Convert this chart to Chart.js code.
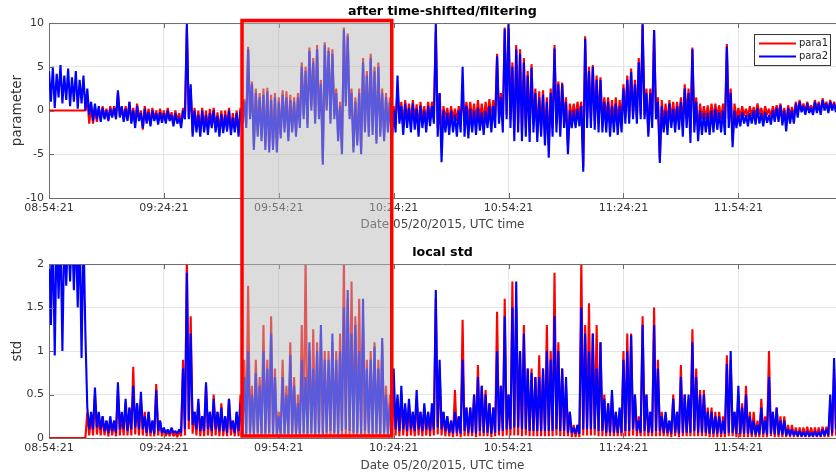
<!DOCTYPE html>
<html>
<head>
<meta charset="utf-8">
<script src="https://cdn.jsdelivr.net/npm/chart.js@4.4.0/dist/chart.umd.min.js"></script>
<style>
  html, body { margin: 0; padding: 0; background: #fff; }
  #wrap { position: relative; width: 836px; height: 476px; }
  .panel { position: absolute; left: 0; width: 836px; height: 238px; }
</style>
</head>
<body>
<div id="wrap">
  <div class="panel" style="top:0"><canvas id="paramChart" width="836" height="238"></canvas></div>
  <div class="panel" style="top:238px"><canvas id="stdChart" width="836" height="238"></canvas></div>
</div>
<script>
// --- data: per-minute high / low envelope of each noisy trace ---
const startTime = "08:54:21";
const sampleStepMin = 1;
const timeTicksMin = [0, 30, 60, 90, 120, 150, 180];
const paramTicks = [-10, -5, 0, 5, 10];
const stdTicks = [0, 0.5, 1, 1.5, 2];
const highlightMinutes = [50.4, 89.5];

const para1High = [
    0, 0, 0, 0, 0, 0, 0, 0, 0, 0,
    1.5, 0.5, 0.5, 0.3, 0.5, 0.2, 0.5, 0.5, 2.0, 0.3,
    0.5, 1.0, 0.3, 0.8, 0.0, 0.5, 0.2, 0.3, 0.0, 0.2,
    0.0, 0.3, -0.2, 0.0, -0.3, 0.3, 9.5, 2.5, 0.3, 0.0,
    0.3, 0.0, 0.2, 0.3, -0.2, 0.0, 0.0, 0.3, -0.3, 0.0,
    0.3, 1.3, 7.3, 3.3, 2.5, 2.0, 2.5, 2.6, 1.8, 2.0,
    1.5, 2.3, 2.2, 1.8, 1.5, 2.0, 5.5, 5.0, 7.2, 6.0,
    7.5, 3.5, 7.8, 7.2, 7.0, 2.5, 1.0, 9.5, 8.8, 2.5,
    1.5, 2.5, 6.0, 4.5, 6.5, 5.0, 5.5, 2.5, 2.0, 1.5,
    0.5, 2.5, 1.0, 1.2, 0.8, 1.2, 0.7, 1.0, 0.5, 1.0,
    1.0, 9.0, 2.0, 0.5, 0.3, 0.5, 0.2, 0.5, 1.5, 1.0,
    1.0, 0.8, 1.2, 0.8, 1.0, 1.3, 1.2, 6.5, 2.0, 9.5,
    9.8, 5.5, 7.5, 7.0, 6.0, 4.5, 5.3, 2.5, 2.2, 2.3,
    1.5, 2.5, 7.5, 3.3, 3.2, 1.5, 0.8, 0.8, 1.0, 1.0,
    8.5, 5.0, 5.2, 4.0, 3.8, 1.5, 1.5, 1.2, 1.5, 1.2,
    3.0, 4.0, 4.8, 3.5, 6.0, 9.8, 2.5, 2.5, 9.2, 1.5,
    1.2, 0.8, 1.2, 1.0, 1.0, 1.5, 3.0, 2.5, 7.2, 1.5,
    0.8, 0.5, 0.6, 0.8, 0.8, 0.6, 0.8, 7.6, 2.5, 0.8,
    0.3, 0.5, 0.2, 0.5, 0.4, 0.8, 0.3, 0.5, 0.2, 0.5,
    0.6, 0.8, 0.3, 0.6, 0.4, 1.0, 1.2, 0.8, 1.0, 0.6,
    1.2, 1.0, 1.4, 1.0, 1.2, 1.0
];
const para1Low = [
    0, 0, 0, 0, 0, 0, 0, 0, 0, 0,
    -1.5, -1.5, -1.3, -1.0, -0.8, -1.0, -0.6, -0.8, -0.6, -1.0,
    -1.0, -1.2, -1.5, -1.0, -2.2, -1.2, -1.5, -1.0, -1.3, -1.0,
    -1.2, -1.0, -1.5, -1.2, -1.5, -0.8, -0.8, -2.5, -2.0, -2.5,
    -2.0, -2.2, -1.5, -2.0, -2.5, -2.2, -2.0, -2.3, -2.0, -2.5,
    -1.0, -1.5, -0.8, -4.0, -2.5, -3.0, -4.0, -4.2, -4.0, -4.2,
    -2.8, -2.0, -3.0, -2.0, -2.5, -1.5, -0.5, -1.5, 0.5, -1.0,
    -0.5, -5.8, 0.5, -1.0, -0.5, -3.0, -4.5, 1.0, -0.5, -4.2,
    -3.5, -4.5, -2.0, -2.5, -2.3, -3.3, -2.5, -3.0, -2.0, -3.0,
    -1.5, -1.0, -2.0, -1.2, -1.5, -1.2, -2.0, -1.0, -1.5, -1.0,
    -0.5, -2.0, -3.0, -1.0, -1.3, -1.0, -1.2, -1.0, -1.0, -1.2,
    -1.0, -1.3, -1.0, -1.3, -0.8, -1.0, -0.8, -0.5, -1.0, -0.5,
    -1.0, -2.5, -1.5, -2.5, -2.0, -2.5, -1.5, -2.5, -2.0, -3.0,
    -4.0, -2.0, -1.5, -2.0, -1.0, -4.0, -0.8, -0.8, -0.5, -6.5,
    -1.0, -1.0, -1.2, -1.5, -1.5, -1.0, -1.5, -1.2, -1.5, -1.0,
    -0.8, -0.8, -0.5, -0.8, -0.5, -0.5, -2.5, -1.0, -0.5, -5.5,
    -1.5, -1.5, -1.0, -1.2, -1.0, -1.8, -1.0, -2.5, -1.5, -2.5,
    -1.0, -1.0, -1.2, -1.0, -0.8, -1.0, -1.2, -1.0, -3.5, -1.0,
    -0.8, -0.6, -0.8, -0.6, -0.7, -0.5, -0.8, -0.5, -0.8, -0.5,
    -0.5, -0.8, -1.5, -0.6, -0.8, -0.3, 0.0, -0.2, 0.0, -0.2,
    0.0, -0.2, 0.3, 0.0, 0.2, 0.0
];

const para2High = [
    4.5, 5.0, 4.2, 5.2, 4.0, 4.8, 3.8, 4.5, 3.5, 4.0,
    2.5, 1.0, 0.8, 0.5, 0.3, 0.0, 0.2, 0.3, 2.3, 0.5,
    0.2, 1.0, 0.0, 0.5, -0.3, 0.2, -0.2, 0.0, -0.3, -0.2,
    -0.3, 0.0, -0.5, -0.3, -0.8, 0.0, 10, 3.0, 0.0, -0.5,
    0.0, -0.5, -0.3, 0.0, -0.6, -0.4, -0.5, 0.0, -0.8, -0.3,
    0.0, 1.0, 7.0, 3.0, 2.0, 1.5, 1.8, 2.2, 1.2, 1.5,
    1.0, 1.8, 1.5, 1.2, 1.0, 1.5, 5.0, 4.5, 6.8, 5.5,
    7.0, 3.0, 7.5, 6.8, 6.5, 2.0, 0.5, 9.2, 8.5, 2.0,
    1.0, 2.0, 5.5, 4.0, 6.0, 4.5, 5.0, 2.0, 1.5, 1.0,
    0.0, 4.0, 0.5, 0.8, 0.3, 0.8, 0.2, 0.5, 0.0, 0.5,
    0.5, 10, 2.0, 0.0, -0.3, 0.0, -0.5, 0.0, 5.0, 0.5,
    0.2, 0.0, 0.3, -0.2, 0.0, 0.5, 0.5, 6.2, 1.5, 9.3,
    10, 5.0, 7.0, 6.5, 5.5, 4.0, 4.9, 2.0, 1.5, 1.8,
    1.0, 2.0, 7.1, 3.0, 3.0, 1.0, 0.0, 0.0, 0.2, 0.5,
    8.2, 4.5, 5.0, 3.5, 3.5, 1.0, 1.0, 0.5, 0.8, 0.5,
    2.5, 3.5, 4.4, 3.0, 5.5, 10, 2.0, 2.0, 9.2, 1.0,
    0.5, 0.0, 0.8, 0.2, 0.5, 1.0, 2.5, 2.0, 7.0, 1.0,
    0.0, -0.3, -0.3, 0.0, 0.2, -0.2, 0.0, 7.3, 2.0, 0.0,
    -0.5, -0.2, -0.5, -0.3, 0.0, 0.3, -0.3, -0.2, -0.5, 0.0,
    0.3, 0.6, 0.0, 0.3, 0.0, 0.8, 1.0, 0.5, 0.8, 0.3,
    1.0, 0.8, 1.2, 0.8, 1.0, 0.8
];
const para2Low = [
    1.0, 0.3, 1.5, 0.8, 1.2, 0.5, 1.0, 0.2, 0.8, 0.0,
    -0.5, -1.2, -1.0, -1.3, -1.0, -1.2, -0.8, -1.0, -0.8, -1.3,
    -1.2, -1.5, -2.0, -1.2, -2.0, -1.5, -1.8, -1.2, -1.6, -1.4,
    -1.5, -1.2, -1.8, -1.5, -2.0, -1.0, -1.0, -3.0, -2.5, -3.0,
    -2.5, -2.8, -2.0, -2.5, -3.0, -2.6, -2.4, -2.8, -2.5, -3.0,
    -1.5, -2.0, -1.0, -4.5, -3.0, -3.5, -4.5, -4.8, -4.5, -4.8,
    -3.2, -2.5, -3.5, -2.5, -3.0, -2.0, -1.0, -2.0, 0.0, -1.5,
    -1.0, -6.2, 0.0, -1.5, -1.0, -3.5, -5.0, 0.5, -1.0, -4.8,
    -4.0, -5.0, -2.5, -3.0, -2.8, -3.8, -3.0, -3.5, -2.5, -3.4,
    -2.5, -1.5, -2.8, -2.0, -2.5, -2.2, -3.0, -2.0, -2.5, -1.8,
    -1.5, -3.0, -5.9, -2.5, -2.8, -2.5, -3.0, -2.5, -3.0, -3.2,
    -2.5, -2.8, -2.3, -2.8, -2.0, -2.5, -2.0, -1.5, -2.5, -1.0,
    -2.0, -3.5, -2.5, -3.5, -3.0, -3.6, -2.5, -3.6, -3.0, -4.0,
    -5.4, -3.0, -2.5, -3.0, -2.0, -5.0, -2.0, -2.0, -1.8, -7.0,
    -2.0, -2.0, -2.2, -2.5, -2.5, -2.5, -3.0, -2.5, -2.8, -2.5,
    -1.5, -1.5, -1.0, -1.5, -1.0, -1.0, -3.0, -2.0, -1.0, -6.0,
    -2.5, -2.8, -2.0, -2.5, -2.2, -3.0, -2.0, -3.7, -2.5, -3.5,
    -2.8, -2.5, -2.8, -2.5, -2.2, -2.5, -2.8, -2.0, -4.2, -2.0,
    -1.8, -1.5, -1.8, -1.5, -1.6, -1.5, -1.8, -1.4, -1.6, -1.3,
    -1.3, -1.7, -2.4, -1.5, -1.5, -0.8, -0.2, -0.5, -0.3, -0.5,
    -0.3, -0.5, 0.0, -0.3, 0.0, -0.2
];

const std1High = [
    0, 0, 0, 0, 0, 0, 0, 0, 0, 0,
    0.3, 0.25, 0.5, 0.25, 0.25, 0.2, 0.2, 0.2, 0.55, 0.25,
    0.4, 0.35, 0.82, 0.4, 0.45, 0.3, 0.3, 0.2, 0.62, 0.2,
    0.1, 0.08, 0.1, 0.06, 0.08, 0.9, 2.1, 1.4, 0.3, 0.4,
    0.25, 0.6, 0.3, 0.5, 0.3, 0.4, 0.25, 0.45, 0.2, 0.3,
    0.5, 0.9, 1.75, 0.6, 0.9, 0.7, 1.3, 0.9, 1.4, 0.8,
    0.3, 0.9, 0.6, 1.1, 0.7, 0.5, 1.3, 2.05, 1.0, 1.25,
    1.1, 1.2, 1.0, 1.0, 1.1, 1.0, 1.2, 2.05, 1.6, 1.8,
    1.4, 1.6, 1.3, 0.9, 1.0, 1.1, 0.9, 1.1, 0.6, 0.5,
    0.6, 0.45, 0.5, 0.35, 0.4, 0.3, 0.45, 0.3, 0.35, 0.3,
    0.3, 1.6, 0.8, 0.3, 0.25, 0.2, 0.55, 0.25, 1.36, 0.35,
    0.35, 0.5, 0.84, 0.6, 0.55, 0.4, 0.35, 1.45, 0.6, 1.6,
    0.5, 1.8, 1.5, 1.0, 1.3, 0.8, 0.8, 0.7, 0.95, 0.8,
    1.3, 1.0, 1.9, 1.1, 0.8, 0.6, 0.3, 0.15, 0.15, 2.05,
    1.3, 1.55, 1.2, 1.3, 1.1, 0.5, 0.4, 0.5, 0.3, 0.3,
    1.0, 1.2, 1.2, 0.5, 0.25, 1.4, 0.5, 0.3, 1.5, 0.9,
    0.3, 0.25, 0.2, 0.5, 0.3, 0.84, 0.5, 0.45, 1.25, 0.8,
    0.55, 0.55, 0.35, 0.35, 0.3, 0.3, 0.25, 0.95, 0.9, 0.3,
    0.5, 0.4, 0.6, 0.3, 0.3, 0.2, 0.45, 0.25, 1.0, 0.3,
    0.35, 0.25, 0.25, 0.15, 0.15, 0.12, 0.12, 0.12, 0.13, 0.12,
    0.12, 0.12, 0.13, 0.13, 0.4, 0.8
];
const std1Low = [
    0, 0, 0, 0, 0, 0, 0, 0, 0, 0,
    0.03, 0.03, 0.04, 0.03, 0.03, 0.02, 0.03, 0.02, 0.03, 0.03,
    0.03, 0.03, 0.04, 0.03, 0.03, 0.02, 0.02, 0.02, 0.03, 0.02,
    0.02, 0.02, 0.02, 0.01, 0.02, 0.03, 0.1, 0.05, 0.03, 0.02,
    0.02, 0.03, 0.02, 0.03, 0.02, 0.02, 0.02, 0.03, 0.02, 0.02,
    0.02, 0.02, 0.03, 0.02, 0.02, 0.02, 0.02, 0.02, 0.02, 0.02,
    0.02, 0.02, 0.02, 0.02, 0.02, 0.02, 0.02, 0.03, 0.02, 0.02,
    0.02, 0.02, 0.02, 0.02, 0.02, 0.02, 0.02, 0.03, 0.02, 0.02,
    0.02, 0.02, 0.02, 0.02, 0.02, 0.02, 0.02, 0.02, 0.02, 0.02,
    0.03, 0.02, 0.03, 0.02, 0.03, 0.02, 0.03, 0.02, 0.03, 0.02,
    0.03, 0.04, 0.03, 0.02, 0.02, 0.01, 0.02, 0.01, 0.02, 0.02,
    0.02, 0.01, 0.02, 0.02, 0.02, 0.01, 0.02, 0.03, 0.02, 0.03,
    0.03, 0.03, 0.03, 0.02, 0.03, 0.02, 0.02, 0.02, 0.02, 0.02,
    0.02, 0.02, 0.03, 0.02, 0.02, 0.02, 0.01, 0.01, 0.01, 0.03,
    0.03, 0.03, 0.03, 0.02, 0.02, 0.02, 0.02, 0.02, 0.02, 0.02,
    0.02, 0.02, 0.03, 0.02, 0.02, 0.02, 0.02, 0.02, 0.02, 0.02,
    0.02, 0.02, 0.01, 0.02, 0.01, 0.02, 0.02, 0.02, 0.02, 0.02,
    0.02, 0.02, 0.01, 0.01, 0.01, 0.01, 0.01, 0.02, 0.02, 0.01,
    0.01, 0.01, 0.01, 0.01, 0.01, 0.01, 0.01, 0.01, 0.02, 0.01,
    0.01, 0.01, 0.01, 0.01, 0.01, 0.01, 0.01, 0.01, 0.01, 0.01,
    0.01, 0.01, 0.01, 0.01, 0.02, 0.03
];

const std2High = [
    2.4, 2.4, 2.4, 2.4, 2.4, 2.4, 2.4, 2.4, 2.4, 2.4,
    0.35, 0.3, 0.58, 0.3, 0.25, 0.2, 0.25, 0.2, 0.64, 0.3,
    0.45, 0.35, 0.6, 0.4, 0.53, 0.25, 0.3, 0.2, 0.55, 0.2,
    0.12, 0.1, 0.12, 0.08, 0.1, 0.8, 1.9, 1.2, 0.3, 0.45,
    0.25, 0.64, 0.3, 0.45, 0.3, 0.35, 0.25, 0.45, 0.2, 0.3,
    0.4, 0.7, 1.0, 0.5, 0.75, 0.6, 1.0, 0.8, 1.2, 0.7,
    0.25, 0.7, 0.5, 0.95, 0.6, 0.4, 0.9, 0.7, 1.1, 0.8,
    1.0, 1.3, 0.9, 0.9, 1.2, 0.9, 1.0, 1.5, 1.7, 1.2,
    1.3, 1.0, 1.6, 0.8, 0.9, 1.05, 0.8, 1.15, 0.5, 0.4,
    0.8, 0.5, 0.6, 0.4, 0.45, 0.3, 0.55, 0.3, 0.4, 0.3,
    0.4, 1.7, 0.9, 0.3, 0.25, 0.2, 0.3, 0.25, 0.9, 0.35,
    0.35, 0.5, 0.7, 0.6, 0.5, 0.4, 0.35, 1.0, 0.6, 1.4,
    0.5, 1.5, 1.8, 1.0, 1.2, 0.8, 0.75, 0.7, 0.7, 0.8,
    1.0, 0.9, 1.4, 1.0, 0.8, 0.7, 0.3, 0.12, 0.15, 1.5,
    1.2, 1.0, 1.2, 0.8, 1.1, 0.45, 0.4, 0.55, 0.3, 0.35,
    0.9, 1.0, 1.18, 0.5, 0.2, 1.3, 0.5, 0.3, 1.3, 0.8,
    0.25, 0.3, 0.2, 0.45, 0.3, 0.7, 0.5, 0.5, 1.1, 0.7,
    0.5, 0.5, 0.3, 0.3, 0.25, 0.25, 0.2, 0.85, 1.0, 0.3,
    0.6, 0.35, 0.5, 0.25, 0.2, 0.15, 0.35, 0.2, 0.7, 0.3,
    0.35, 0.2, 0.2, 0.1, 0.1, 0.08, 0.08, 0.07, 0.08, 0.06,
    0.08, 0.07, 0.1, 0.1, 0.5, 0.92
];
const std2Low = [
    1.3, 0.95, 1.6, 1.0, 1.75, 1.8, 1.7, 1.5, 0.92, 1.2,
    0.1, 0.1, 0.12, 0.1, 0.08, 0.06, 0.08, 0.06, 0.1, 0.1,
    0.08, 0.1, 0.12, 0.1, 0.1, 0.06, 0.06, 0.05, 0.08, 0.06,
    0.05, 0.05, 0.06, 0.05, 0.06, 0.1, 0.2, 0.15, 0.1, 0.08,
    0.08, 0.1, 0.08, 0.1, 0.08, 0.08, 0.06, 0.1, 0.06, 0.08,
    0.05, 0.05, 0.06, 0.05, 0.06, 0.05, 0.05, 0.06, 0.05, 0.05,
    0.05, 0.05, 0.05, 0.06, 0.05, 0.05, 0.06, 0.05, 0.06, 0.05,
    0.06, 0.05, 0.06, 0.08, 0.06, 0.05, 0.08, 0.1, 0.08, 0.06,
    0.06, 0.05, 0.08, 0.06, 0.05, 0.06, 0.05, 0.06, 0.05, 0.05,
    0.1, 0.08, 0.1, 0.08, 0.1, 0.08, 0.1, 0.08, 0.1, 0.08,
    0.1, 0.12, 0.1, 0.08, 0.06, 0.05, 0.06, 0.05, 0.08, 0.06,
    0.06, 0.05, 0.08, 0.06, 0.06, 0.05, 0.06, 0.08, 0.08, 0.1,
    0.1, 0.12, 0.12, 0.1, 0.1, 0.08, 0.08, 0.08, 0.08, 0.08,
    0.08, 0.08, 0.1, 0.08, 0.08, 0.06, 0.06, 0.05, 0.05, 0.1,
    0.1, 0.1, 0.1, 0.08, 0.08, 0.06, 0.06, 0.06, 0.06, 0.06,
    0.08, 0.08, 0.1, 0.08, 0.06, 0.08, 0.06, 0.06, 0.08, 0.08,
    0.06, 0.06, 0.05, 0.06, 0.05, 0.06, 0.06, 0.06, 0.08, 0.06,
    0.06, 0.06, 0.05, 0.05, 0.05, 0.05, 0.05, 0.06, 0.06, 0.05,
    0.05, 0.05, 0.05, 0.04, 0.04, 0.04, 0.05, 0.04, 0.05, 0.04,
    0.04, 0.04, 0.03, 0.03, 0.03, 0.02, 0.02, 0.02, 0.02, 0.02,
    0.02, 0.02, 0.03, 0.03, 0.05, 0.1
];

// --- helpers ---
const FONT = "'DejaVu Sans', 'Liberation Sans', sans-serif";
const startSec = startTime.split(":").reduce((acc, v) => acc * 60 + Number(v), 0);

function fmtTime(min) {
    const s = Math.round(startSec + min * 60);
    const pad = (n) => String(n).padStart(2, "0");
    return pad(Math.floor(s / 3600)) + ":" + pad(Math.floor(s / 60) % 60) + ":" + pad(s % 60);
}

// each minute: its high, then its low half a minute later -> dense noisy trace
function toPoints(high, low) {
    const pts = [];
    high.forEach((h, i) => {
        pts.push({ x: i * sampleStepMin, y: h });
        pts.push({ x: (i + 0.5) * sampleStepMin, y: low[i] });
    });
    return pts;
}

// frame, inner tick marks, legend and the highlighted window
const panelDecor = {
    id: "panelDecor",
    afterDraw(chart, args, opts) {
        const { ctx, chartArea: a } = chart;
        const x = chart.scales.x, y = chart.scales.y;
        ctx.save();

        ctx.strokeStyle = "#6b6b6b";
        ctx.lineWidth = 1;
        ctx.beginPath();
        ctx.moveTo(a.left, a.top + 0.5);
        ctx.lineTo(a.right, a.top + 0.5);
        x.ticks.forEach((t) => {
            const px = Math.round(x.getPixelForValue(t.value)) + 0.5;
            ctx.moveTo(px, a.bottom);
            ctx.lineTo(px, a.bottom - 5);
            ctx.moveTo(px, a.top);
            ctx.lineTo(px, a.top + 5);
        });
        y.ticks.forEach((t) => {
            const py = Math.round(y.getPixelForValue(t.value)) + 0.5;
            ctx.moveTo(a.left, py);
            ctx.lineTo(a.left + 5, py);
        });
        ctx.stroke();

        if (opts.legend) {
            const lx = a.right - 82, ly = a.top + 11;
            ctx.fillStyle = "#fff";
            ctx.fillRect(lx, ly, 77, 32);
            ctx.strokeStyle = "#333";
            ctx.strokeRect(lx + 0.5, ly + 0.5, 76, 31);
            ctx.font = "10px " + FONT;
            ctx.textBaseline = "middle";
            ctx.textAlign = "left";
            opts.legend.forEach((item, k) => {
                const yy = ly + 9.5 + k * 13;
                ctx.strokeStyle = item.color;
                ctx.lineWidth = 2;
                ctx.beginPath();
                ctx.moveTo(lx + 5, yy);
                ctx.lineTo(lx + 42, yy);
                ctx.stroke();
                ctx.fillStyle = "#222";
                ctx.fillText(item.label, lx + 45, yy);
            });
        }

        const x0 = x.getPixelForValue(highlightMinutes[0]);
        const x1 = x.getPixelForValue(highlightMinutes[1]);
        const yTop = opts.upper ? a.top - 2.5 : 0;
        const yBot = opts.upper ? chart.height : a.bottom - 2;
        ctx.fillStyle = "rgba(184,184,184,0.49)";
        ctx.fillRect(x0, yTop, x1 - x0, yBot - yTop);
        ctx.strokeStyle = "#ff0000";
        ctx.lineWidth = 3.5;
        ctx.lineJoin = "miter";
        ctx.beginPath();
        if (opts.upper) {
            ctx.moveTo(x0, yBot);
            ctx.lineTo(x0, yTop);
            ctx.lineTo(x1, yTop);
            ctx.lineTo(x1, yBot);
        } else {
            ctx.moveTo(x0, yTop);
            ctx.lineTo(x0, yBot);
            ctx.lineTo(x1, yBot);
            ctx.lineTo(x1, yTop);
        }
        ctx.stroke();
        ctx.restore();
    },
};

function makePanel(canvasId, cfg) {
    const lineStyle = { borderWidth: 2.1, pointRadius: 0, tension: 0, borderJoinStyle: "bevel" };
    return new Chart(document.getElementById(canvasId), {
        type: "line",
        data: {
            datasets: [
                { label: "para1", data: toPoints(cfg.red[0], cfg.red[1]), borderColor: "#ff0000", order: 2, ...lineStyle },
                { label: "para2", data: toPoints(cfg.blue[0], cfg.blue[1]), borderColor: "#0000ff", order: 1, ...lineStyle },
            ],
        },
        options: {
            responsive: false,
            animation: false,
            layout: { padding: 0 },
            scales: {
                x: {
                    type: "linear",
                    min: 0,
                    max: 205.5,
                    afterBuildTicks: (s) => { s.ticks = timeTicksMin.map((v) => ({ value: v })); },
                    afterFit: (s) => { s.height = cfg.xHeight; },
                    ticks: {
                        padding: 4,
                        maxRotation: 0,
                        color: "#333",
                        font: { family: FONT, size: 11 },
                        callback: (v) => fmtTime(v),
                    },
                    grid: { color: "#e4e4e4", drawTicks: false },
                    border: { color: "#6b6b6b" },
                    title: {
                        display: true,
                        text: "Date 05/20/2015, UTC time",
                        color: "#444",
                        font: { family: FONT, size: 12 },
                        padding: { top: 0, bottom: cfg.xTitlePad },
                    },
                },
                y: {
                    min: cfg.yMin,
                    max: cfg.yMax,
                    afterBuildTicks: (s) => { s.ticks = cfg.yTicks.map((v) => ({ value: v })); },
                    afterFit: (s) => { s.width = 49; },
                    ticks: {
                        padding: 5,
                        color: "#333",
                        font: { family: FONT, size: 11 },
                        callback: (v) => String(v),
                    },
                    grid: { color: "#e4e4e4", drawTicks: false },
                    border: { color: "#6b6b6b" },
                    title: {
                        display: true,
                        text: cfg.yLabel,
                        color: "#333",
                        font: { family: FONT, size: 13.5 },
                        padding: { top: 9, bottom: 0 },
                    },
                },
            },
            plugins: {
                legend: { display: false },
                tooltip: { enabled: false },
                title: {
                    display: true,
                    fullSize: false,
                    text: cfg.title,
                    color: "#000",
                    font: { family: FONT, size: 12.7, weight: "bold" },
                    padding: cfg.titlePad,
                },
                panelDecor: { upper: cfg.upper, legend: cfg.legend },
            },
        },
        plugins: [panelDecor],
    });
}

makePanel("paramChart", {
    red: [para1High, para1Low],
    blue: [para2High, para2Low],
    title: "after time-shifted/filtering",
    titlePad: { top: 4.5, bottom: 3.3 },
    yLabel: "parameter",
    yMin: -10,
    yMax: 10,
    yTicks: paramTicks,
    xHeight: 40,
    xTitlePad: 5.8,
    upper: true,
    legend: [
        { label: "para1", color: "#ff0000" },
        { label: "para2", color: "#0000ff" },
    ],
});

makePanel("stdChart", {
    red: [std1High, std1Low],
    blue: [std2High, std2Low],
    title: "local std",
    titlePad: { top: 7.5, bottom: 3.3 },
    yLabel: "std",
    yMin: 0,
    yMax: 2,
    yTicks: stdTicks,
    xHeight: 38,
    xTitlePad: 2.8,
    upper: false,
    legend: null,
});
</script>
</body>
</html>
